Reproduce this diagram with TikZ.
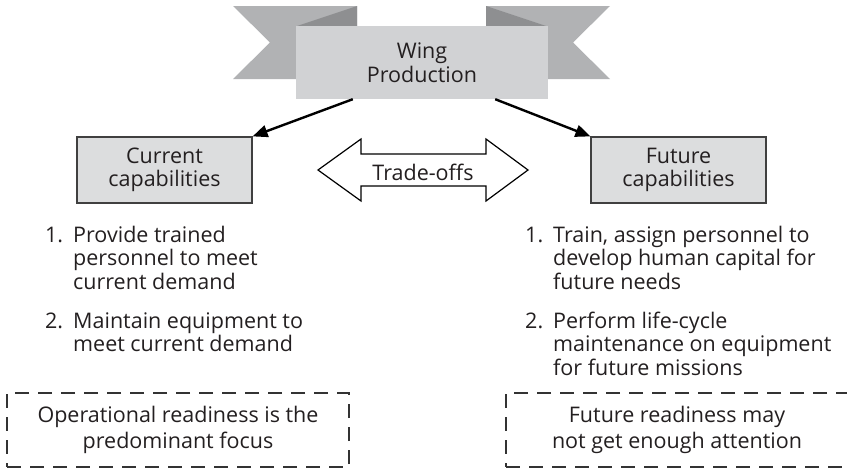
\documentclass[tikz,border=0pt]{standalone}
\usepackage{fontspec}
\setmainfont{Open Sans}
\usetikzlibrary{arrows.meta,calc}
\definecolor{ribbon}{HTML}{B1B2B4}
\definecolor{fold}{HTML}{8E8F91}
\definecolor{banner}{HTML}{D1D2D4}
\definecolor{capfill}{HTML}{DCDDDE}
\definecolor{txt}{HTML}{231F20}
\newcommand{\firstline}{\rule{0pt}{17pt}}
\begin{document}
\begin{tikzpicture}[x=1pt,y=-1pt,
  every node/.style={font=\fontsize{21.5}{23.5}\selectfont, text=txt, inner sep=0pt},
  capbox/.style={draw=black!75, line width=1.2pt, fill=capfill, minimum width=175pt, minimum height=66pt, align=center},
  notebox/.style={draw=black!80, line width=1.1pt, dash pattern=on 14pt off 9pt, minimum width=342pt, minimum height=74pt, align=center, font=\fontsize{21.5}{26}\selectfont},
  flow/.style={line width=2.4pt, -{Triangle[length=15pt,width=12pt]}},
  listtext/.style={anchor=north west, align=left},
  ribbonpart/.style={fill=ribbon, draw=none},
  foldpart/.style={fill=fold, draw=none}]
\useasboundingbox (0,0) rectangle (847,471);
% banner
\fill[ribbonpart] (233,6) -- (357,6) -- (357,79) -- (233,79) -- (270,42.5) -- cycle;
\fill[foldpart] (297,26) -- (357,6) -- (357,26) -- cycle;
\fill[ribbonpart] (486,6) -- (610,6) -- (573,42.5) -- (610,79) -- (486,79) -- cycle;
\fill[foldpart] (486,6) -- (546,26) -- (486,26) -- cycle;
\node[fill=banner, minimum width=252pt, minimum height=73pt, align=center] (wing) at (422,62.5) {Wing\\Production};
% capability boxes
\node[capbox] (cur) at (164.5,170) {Current\\capabilities};
\node[capbox] (fut) at (678.5,170) {Future\\capabilities};
% arrows
\draw[flow] ($(wing.south west)+(57,0)$) -- (cur.north east);
\draw[flow] ($(wing.south east)+(-53,0)$) -- (fut.north west);
% trade-offs double arrow
\draw[line width=1.2pt, fill=white] (318,170) -- (361,139) -- (361,154) -- (486,154) -- (486,139) -- (528,170) -- (486,201) -- (486,186) -- (361,186) -- (361,201) -- cycle;
\node[anchor=base] (trade) at (423,180) {Trade-offs};
% left list
\node[anchor=base west] (l1n) at (45,242) {1.};
\node[listtext] (l1) at (73,225) {\firstline Provide trained\\personnel to meet\\current demand};
\node[anchor=base west] (l2n) at (45,328) {2.};
\node[listtext] (l2) at (73,311) {\firstline Maintain equipment to\\meet current demand};
% right list
\node[anchor=base west] (r1n) at (525,242) {1.};
\node[listtext] (r1) at (553,225) {\firstline Train, assign personnel to\\develop human capital for\\future needs};
\node[anchor=base west] (r2n) at (525,328) {2.};
\node[listtext] (r2) at (553,311) {\firstline Perform life-cycle\\maintenance on equipment\\for future missions};
% notes
\node[notebox] (lnote) at (178,430) {Operational readiness is the\\predominant focus};
\node[notebox] (rnote) at (677,430) {Future readiness may\\not get enough attention};
\end{tikzpicture}
\end{document}
